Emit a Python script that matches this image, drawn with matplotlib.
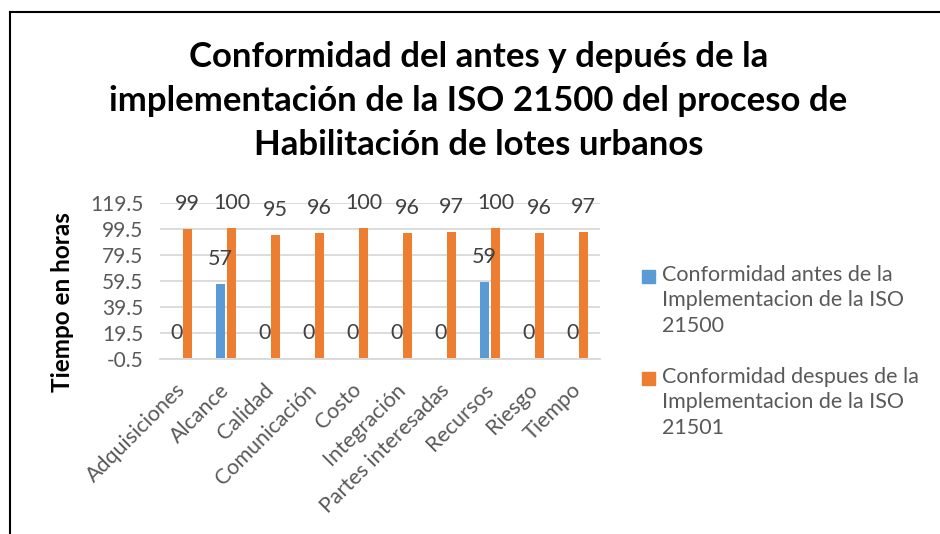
import matplotlib.pyplot as plt
from matplotlib.lines import Line2D
from matplotlib.patches import Rectangle
import numpy as np

categorias = ["Adquisiciones", "Alcance", "Calidad", "Comunicación", "Costo",
              "Integración", "Partes interesadas", "Recursos", "Riesgo", "Tiempo"]
antes = [0, 57, 0, 0, 0, 0, 0, 59, 0, 0]
despues = [99, 100, 95, 96, 100, 96, 97, 100, 96, 97]
serie_antes = "Conformidad antes de la\nImplementacion de la ISO\n21500"
serie_despues = "Conformidad despues de la\nImplementacion de la ISO\n21501"
y_ticks = [-0.5, 19.5, 39.5, 59.5, 79.5, 99.5, 119.5]

azul = "#5B9BD5"
naranja = "#ED7D31"
gris = "#595959"

plt.rcParams["font.family"] = ["Lato", "DejaVu Sans"]

fig = plt.figure(figsize=(9.4, 5.34), dpi=100)
ax = fig.add_axes([160 / 940, 175 / 534, 440 / 940, 156.3 / 534])

x = np.arange(len(categorias))
w = 0.2
b1 = ax.bar(x - 0.13, antes, w, color=azul, zorder=3)
b2 = ax.bar(x + 0.13, despues, w, color=naranja, zorder=3)

for barras in (b1, b2):
    for r in barras:
        ax.annotate(f"{r.get_height():.0f}", (r.get_x() + r.get_width() / 2, r.get_height()),
                    xytext=(0, 18), textcoords="offset points", ha="center", va="center",
                    fontsize=15.5, color="#404040")

ax.set_xlim(-0.5, len(categorias) - 0.5)
ax.set_ylim(-0.5, 119.5)
ax.set_yticks(y_ticks)
ax.set_yticklabels([f"{v:.1f}" for v in y_ticks])
ax.set_xticks(x)
ax.set_xticklabels(categorias, rotation=45, ha="right", va="center", rotation_mode="anchor")
ax.tick_params(axis="both", length=0, labelsize=15, colors=gris)
ax.tick_params(axis="x", pad=20, labelsize=15.5)
ax.tick_params(axis="y", pad=12)
ax.grid(axis="y", color="#D9D9D9", linewidth=1.3, zorder=0)
for s in ["top", "right", "left"]:
    ax.spines[s].set_visible(False)
ax.spines["bottom"].set_color("#D9D9D9")
ax.spines["bottom"].set_linewidth(1.3)

ax.set_ylabel("Tiempo en horas", fontsize=17.5, fontweight="bold", color="black")
ax.yaxis.label.set_va("center")
ax.yaxis.set_label_coords((62 - 160) / 440, (359 - 302) / 156.3)

fig.text(0.509, 1 - 101 / 534, "Conformidad del antes y depués de la\n"
         "implementación de la ISO 21500 del proceso de\nHabilitación de lotes urbanos",
         ha="center", va="center", fontsize=25, fontweight="bold", linespacing=1.45)

# leyenda
for color, texto, y0 in [(azul, serie_antes, 276), (naranja, serie_despues, 378)]:
    fig.add_artist(Rectangle((642 / 940, 1 - (y0 + 6.5) / 534), 13 / 940, 13 / 534,
                             color=color, transform=fig.transFigure))
    fig.text(662 / 940, 1 - (y0 - 11) / 534, texto, ha="left", va="top",
             fontsize=15.5, color=gris, linespacing=1.33)

# marco del grafico
fig.add_artist(Line2D([10 / 940, 10 / 940], [0, 1 - 12 / 534], color="black", lw=1.5))
fig.add_artist(Line2D([10 / 940, 1], [1 - 12 / 534, 1 - 12 / 534], color="black", lw=1.5))

fig.savefig("out.png", dpi=100)
